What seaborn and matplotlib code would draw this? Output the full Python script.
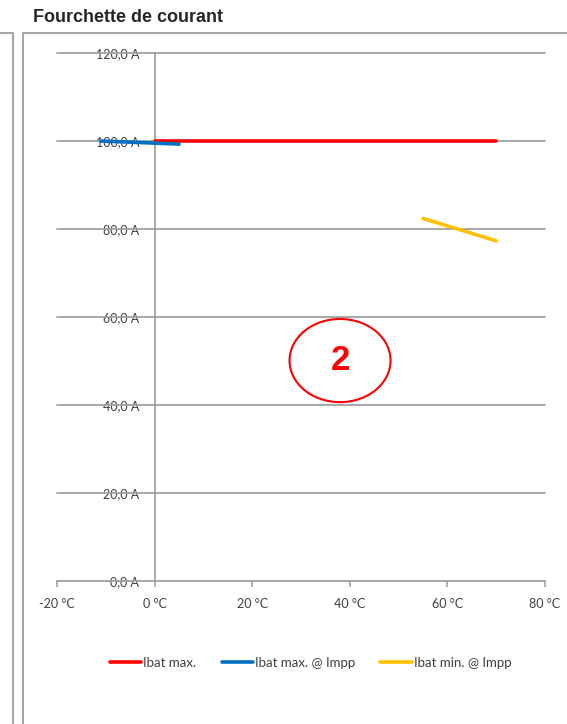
import seaborn as sns
import matplotlib.pyplot as plt
import pandas as pd
from matplotlib.patches import Ellipse
from matplotlib.lines import Line2D

# series
series_names = ['Ibat max.', 'Ibat max. @ Impp', 'Ibat min. @ Impp']
temp_max = [0, 70]
ibat_max = [100.0, 100.0]
temp_max_impp = [-11, 5]
ibat_max_impp = [100.0, 99.3]
temp_min_impp = [55, 70]
ibat_min_impp = [82.4, 77.3]

x_ticks = [-20, 0, 20, 40, 60, 80]
y_ticks = [0, 20, 40, 60, 80, 100, 120]
colors = ['#FF0000', '#0070C0', '#FFC000']

sns.set_theme(style='white')
plt.rcParams['font.family'] = ['Lato', 'DejaVu Sans']

df = pd.concat([
    pd.DataFrame({'T': temp_max, 'I': ibat_max, 'serie': series_names[0]}),
    pd.DataFrame({'T': temp_max_impp, 'I': ibat_max_impp, 'serie': series_names[1]}),
    pd.DataFrame({'T': temp_min_impp, 'I': ibat_min_impp, 'serie': series_names[2]}),
])

fig = plt.figure(figsize=(5.67, 7.24), dpi=100)
ax = fig.add_axes([57 / 567, 1 - 581 / 724, (545 - 57) / 567, (581 - 53) / 724])

grid_c = '#A0A0A0'
for v in y_ticks[1:]:
    ax.axhline(v, color=grid_c, lw=1.3, zorder=3, clip_on=False)

sns.lineplot(data=df, x='T', y='I', hue='serie', palette=dict(zip(series_names, colors)),
             linewidth=2.6, ax=ax, zorder=4, legend=True)

ax.set_xlim(-20, 80)
ax.set_ylim(0, 120)
ax.set_xticks(x_ticks)
ax.set_xticklabels([f'{t} °C' for t in x_ticks])
ax.set_yticks(y_ticks)
ax.set_yticklabels([f'{v:.1f}'.replace('.', ',') + ' A' for v in y_ticks])
ax.set_xlabel('')
ax.set_ylabel('')

for s in ['top', 'right']:
    ax.spines[s].set_visible(False)
ax.spines['left'].set_position(('data', 0))
ax.spines['left'].set_color(grid_c)
ax.spines['bottom'].set_color(grid_c)
ax.spines['left'].set_linewidth(1.3)
ax.spines['bottom'].set_linewidth(1.3)
ax.tick_params(axis='x', bottom=True, length=4, width=1.2, color=grid_c, pad=8,
               labelsize=9, labelcolor='#404040')
ax.tick_params(axis='y', left=False, length=0, pad=11, labelsize=9, labelcolor='#404040')
ax.yaxis.set_zorder(1)
ax.xaxis.set_zorder(1)

# annotation circle
ax.add_patch(Ellipse((38.0, 50.1), 20.7, 18.9, fill=False, edgecolor='#FF0000', lw=1.5, zorder=5))
ax.text(38.0, 50.1, '2', color='#FF0000', fontsize=25, fontweight='bold',
        ha='center', va='center', family=['Liberation Sans', 'DejaVu Sans'], zorder=6)

handles, labels = ax.get_legend_handles_labels()
ax.legend(handles, labels, loc='center', bbox_to_anchor=(0.548, 1 - 663 / 724),
          bbox_transform=fig.transFigure, ncol=3, frameon=False, fontsize=9.5,
          handlelength=2.4, handletextpad=0.15, columnspacing=1.9,
          labelcolor='#404040')

# chart frames
fig.text(33 / 567, 1 - 18 / 724, 'Fourchette de courant', fontsize=13, fontweight='bold',
         ha='left', va='center', family=['Liberation Sans', 'DejaVu Sans'])
frame_c = '#A6A6A6'
fig.add_artist(Line2D([0, 13 / 567, 13 / 567], [1 - 33 / 724, 1 - 33 / 724, 0],
                      transform=fig.transFigure, color=frame_c, lw=1.5))
fig.add_artist(Line2D([23 / 567, 23 / 567, 1], [0, 1 - 33 / 724, 1 - 33 / 724],
                      transform=fig.transFigure, color=frame_c, lw=1.5))

fig.savefig('out.png', dpi=100)
